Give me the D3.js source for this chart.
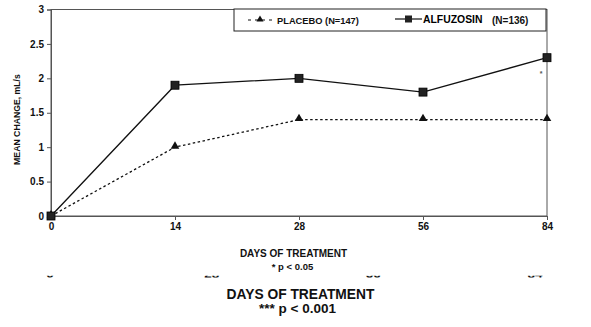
<!DOCTYPE html>
<html>
<head>
<meta charset="utf-8">
<script src="https://cdn.jsdelivr.net/npm/d3@7"></script>
<style>
  html, body { margin: 0; padding: 0; background: #fff; }
  svg { display: block; font-family: "Liberation Sans", Arial, sans-serif; font-weight: bold; }
</style>
</head>
<body>
<svg id="chart" width="591" height="327"></svg>
<script>
// Days of treatment (categorical x axis)
const days = ["0", "14", "28", "56", "84"];
// Mean change in peak flow, mL/s
const placebo = [0, 1.0, 1.4, 1.4, 1.4];
const alfuzosin = [0, 1.9, 2.0, 1.8, 2.3];
const yTicks = [0, 0.5, 1, 1.5, 2, 2.5, 3];
const yTickLabels = ["0", "0.5", "1", "1.5", "2", "2.5", "3"];
const seriesNames = ["PLACEBO (N=147)", "ALFUZOSIN", "(N=136)"];
// Tick labels of the second panel below (only their lowest edge shows)
const lowerDays = ["0", "28", "56", "84"];

const svg = d3.select("#chart");
const plotLeft = 51, plotRight = 547, plotTop = 9.5, plotBottom = 216;
const FONT = "Liberation Sans, Arial, sans-serif";

const x = d3.scalePoint().domain(days).range([plotLeft, plotRight]);
const y = d3.scaleLinear().domain([0, 3]).range([plotBottom, plotTop]);

// plot frame
svg.append("rect")
  .attr("x", plotLeft).attr("y", plotTop)
  .attr("width", plotRight - plotLeft).attr("height", plotBottom - plotTop)
  .attr("fill", "none").attr("stroke", "#555").attr("stroke-width", 1);

// y axis
const yAxis = d3.axisLeft(y).tickValues(yTicks)
  .tickFormat((d, i) => yTickLabels[i]).tickSize(4).tickPadding(3);
const gy = svg.append("g").attr("transform", `translate(${plotLeft},0)`).call(yAxis);
gy.select(".domain").attr("stroke", "#555");
gy.selectAll(".tick line").attr("stroke", "#555");
gy.selectAll(".tick text").attr("font-size", 10).attr("font-family", FONT)
  .attr("font-weight", "bold").attr("fill", "#111");

// x axis
const xAxis = d3.axisBottom(x).tickSize(4).tickPadding(3);
const gx = svg.append("g").attr("transform", `translate(0,${plotBottom})`).call(xAxis);
gx.select(".domain").attr("stroke", "#555");
gx.selectAll(".tick line").attr("stroke", "#555");
gx.selectAll(".tick text").attr("font-size", 10).attr("font-family", FONT)
  .attr("font-weight", "bold").attr("fill", "#111");

// y axis title
svg.append("text")
  .attr("transform", "translate(19.5,119.5) rotate(-90)")
  .attr("text-anchor", "middle").attr("font-size", 8.7).attr("fill", "#111")
  .text("MEAN CHANGE, mL/s");

// series lines
const line = d3.line().x((d, i) => x(days[i])).y(d => y(d));
svg.append("path").datum(placebo).attr("d", line)
  .attr("fill", "none").attr("stroke", "#111").attr("stroke-width", 1.3)
  .attr("stroke-dasharray", "2.5,2.5");
svg.append("path").datum(alfuzosin).attr("d", line)
  .attr("fill", "none").attr("stroke", "#111").attr("stroke-width", 1.3);

// markers
const tri = d3.symbol().type(d3.symbolTriangle).size(32);
svg.selectAll(".tri").data(placebo).enter().append("path")
  .attr("d", tri).attr("fill", "#111")
  .attr("transform", (d, i) => `translate(${x(days[i])},${y(d) - 1})`);
svg.selectAll(".sq").data(alfuzosin).enter().append("rect")
  .attr("x", (d, i) => x(days[i]) - 4).attr("y", d => y(d) - 4)
  .attr("width", 8).attr("height", 8).attr("fill", "#222").attr("stroke", "#000").attr("stroke-width", 0.8);

// significance mark at day 84
svg.append("text").attr("x", x("84") - 6).attr("y", y(2.3) + 18)
  .attr("text-anchor", "middle").attr("font-size", 7).attr("fill", "#555").text("*");

// legend
const lg = svg.append("g");
lg.append("rect").attr("x", 234).attr("y", 9).attr("width", 312).attr("height", 22)
  .attr("fill", "#fff").attr("stroke", "#222").attr("stroke-width", 1);
lg.append("line").attr("x1", 248).attr("x2", 273).attr("y1", 20).attr("y2", 20)
  .attr("stroke", "#111").attr("stroke-width", 1.2).attr("stroke-dasharray", "3,4");
lg.append("path").attr("d", d3.symbol().type(d3.symbolTriangle).size(22)())
  .attr("transform", "translate(260,19.5)").attr("fill", "#111");
lg.append("text").attr("x", 277).attr("y", 23.5).attr("font-size", 9.3).attr("fill", "#111").text(seriesNames[0]);
lg.append("line").attr("x1", 395).attr("x2", 422).attr("y1", 19).attr("y2", 19)
  .attr("stroke", "#111").attr("stroke-width", 1.2);
lg.append("rect").attr("x", 405).attr("y", 15.5).attr("width", 7).attr("height", 7).attr("fill", "#222");
lg.append("text").attr("x", 423).attr("y", 22.5).attr("font-size", 10.4).attr("fill", "#000").text(seriesNames[1]);
lg.append("text").attr("x", 492).attr("y", 24).attr("font-size", 10).attr("fill", "#111").text(seriesNames[2]);

// footer labels
svg.append("text").attr("x", 293.5).attr("y", 257).attr("text-anchor", "middle")
  .attr("font-size", 10).attr("fill", "#111").text("DAYS OF TREATMENT");
svg.append("text").attr("x", 292.5).attr("y", 270).attr("text-anchor", "middle")
  .attr("font-size", 9.5).attr("fill", "#111").text("*  p < 0.05");

// clipped tick labels of the lower panel
svg.append("clipPath").attr("id", "lowerClip")
  .append("rect").attr("x", 0).attr("y", 275.8).attr("width", 591).attr("height", 1.8);
const lowerX = d3.scalePoint().domain(lowerDays).range([50, 535]);
svg.append("g").attr("clip-path", "url(#lowerClip)")
  .selectAll("text").data(lowerDays).enter().append("text")
  .attr("x", d => lowerX(d)).attr("y", 277.6).attr("text-anchor", "middle")
  .attr("font-size", 13.5).attr("fill", "#111").text(d => d);

svg.append("text").attr("x", 300.5).attr("y", 299).attr("text-anchor", "middle")
  .attr("font-size", 13.8).attr("fill", "#111").text("DAYS OF TREATMENT");
svg.append("text").attr("x", 297.5).attr("y", 313).attr("text-anchor", "middle")
  .attr("font-size", 13.5).attr("fill", "#111").text("***  p < 0.001");
</script>
</body>
</html>
